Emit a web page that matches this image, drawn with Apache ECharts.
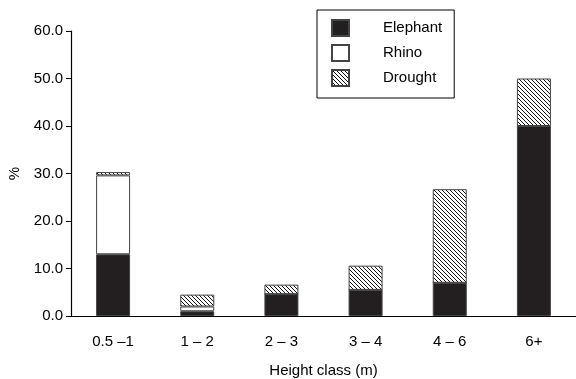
<!DOCTYPE html>
<html><head><meta charset="utf-8">
<script src="https://cdn.jsdelivr.net/npm/echarts@6/dist/echarts.min.js"></script>
<style>html,body{margin:0;padding:0;background:#fff}#c{width:576px;height:379px}</style>
</head><body><div id="c"></div>
<script>
const categories = ['0.5 \u20131', '1 \u2013 2', '2 \u2013 3', '3 \u2013 4', '4 \u2013 6', '6+'];
const elephant = [13.0, 1.0, 4.6, 5.5, 7.0, 40.0];
const rhino = [16.6, 1.0, 0, 0, 0, 0];
const drought = [0.7, 2.5, 2.0, 5.1, 19.7, 10.0];
const yTicks = [0, 10, 20, 30, 40, 50, 60];

function hatch() {
  const s = 4;
  const c = document.createElement('canvas');
  c.width = s; c.height = s;
  const g = c.getContext('2d');
  g.fillStyle = '#fff'; g.fillRect(0, 0, s, s);
  g.strokeStyle = '#111'; g.lineWidth = 1;
  g.beginPath();
  g.moveTo(-1, -1); g.lineTo(s + 1, s + 1);
  g.moveTo(-1, s - 1); g.lineTo(1, s + 1);
  g.moveTo(s - 1, -1); g.lineTo(s + 1, 1);
  g.stroke();
  return c;
}
const font = 'Liberation Sans, Arial, Helvetica, sans-serif';
const fs = 15;
const chart = echarts.init(document.getElementById('c'));
const border = {borderColor: '#444', borderWidth: 1};
chart.setOption({
  animation: false,
  textStyle: {fontFamily: font},
  grid: {left: 71, right: 0, top: 31, bottom: 63, containLabel: false, outerBoundsMode: 'none'},
  legend: {
    orient: 'vertical', left: 317, top: 10,
    padding: [9, 12, 11, 14],
    borderColor: '#000', borderWidth: 1,
    icon: 'rect',
    itemWidth: 17, itemHeight: 16, itemGap: 7,
    textStyle: {fontFamily: font, fontSize: fs, color: '#000', padding: [0, 0, 0, 29]},
    data: ['Elephant', 'Rhino', 'Drought']
  },
  xAxis: {
    type: 'category', data: categories,
    name: 'Height class (m)', nameLocation: 'middle', nameGap: 47,
    nameTextStyle: {fontSize: fs, color: '#000', fontFamily: font},
    axisLine: {lineStyle: {color: '#000', width: 1.2}},
    axisTick: {length: 5, lineStyle: {color: '#000'}},
    axisLabel: {fontSize: fs, color: '#000', margin: 18, fontFamily: font}
  },
  yAxis: {
    type: 'value', min: yTicks[0], max: yTicks[yTicks.length - 1], interval: 10,
    name: '%', nameLocation: 'middle', nameGap: 49, nameRotate: 90,
    nameTextStyle: {fontSize: fs, color: '#000', fontFamily: font},
    axisLine: {show: true, lineStyle: {color: '#000', width: 1.2}},
    axisTick: {show: true, length: 5, lineStyle: {color: '#000'}},
    splitLine: {show: false},
    axisLabel: {fontSize: fs, color: '#000', margin: 8, fontFamily: font,
      formatter: v => v.toFixed(1)}
  },
  series: [
    {name: 'Elephant', type: 'bar', stack: 's', barWidth: 34, data: elephant,
     itemStyle: Object.assign({color: '#231f20'}, border)},
    {name: 'Rhino', type: 'bar', stack: 's', barWidth: 34, data: rhino,
     itemStyle: Object.assign({color: '#fff'}, border)},
    {name: 'Drought', type: 'bar', stack: 's', barWidth: 34, data: drought,
     itemStyle: Object.assign({color: {image: hatch(), repeat: 'repeat'}}, border)}
  ]
});
</script></body></html>
